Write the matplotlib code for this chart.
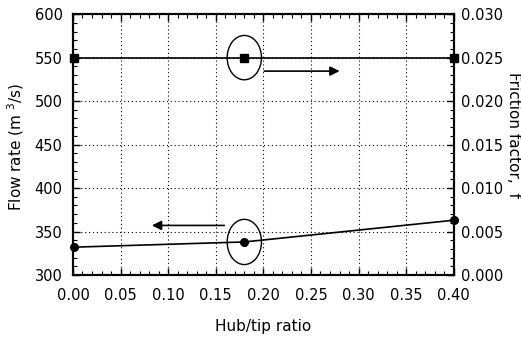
import matplotlib
matplotlib.use("Agg")
import matplotlib.pyplot as plt
from matplotlib.patches import Ellipse
from matplotlib.ticker import MultipleLocator, FormatStrFormatter

plt.rcParams['font.family'] = ['DejaVu Sans']
plt.rcParams['mathtext.fontset'] = 'dejavusans'

hub_tip = [0.001, 0.18, 0.40]
flow_rate = [332, 338, 363]
friction = [0.025, 0.025, 0.025]

fig = plt.figure(figsize=(5.21, 3.37), dpi=100)
ax = fig.add_axes([0.140, 0.184, 0.731, 0.774])
ax2 = ax.twinx()

ax.plot(hub_tip, flow_rate, '-o', color='black', lw=1.2, ms=5.5, clip_on=False, zorder=5)
ax2.plot(hub_tip, friction, '-s', color='black', lw=1.2, ms=5.5, clip_on=False, zorder=5)

ax.set_xlim(0, 0.40)
ax.set_ylim(300, 600)
ax2.set_ylim(0, 0.030)

ax.xaxis.set_major_locator(MultipleLocator(0.05))
ax.xaxis.set_minor_locator(MultipleLocator(0.01))
ax.yaxis.set_major_locator(MultipleLocator(50))
ax.yaxis.set_minor_locator(MultipleLocator(10))
ax2.yaxis.set_major_locator(MultipleLocator(0.005))
ax2.yaxis.set_minor_locator(MultipleLocator(0.001))

ax.xaxis.set_major_formatter(FormatStrFormatter('%.2f'))
ax2.yaxis.set_major_formatter(FormatStrFormatter('%.3f'))

ax.grid(True, which='major', color='black', linestyle=(0, (1, 2.5)), lw=0.8)

for a in (ax, ax2):
    for s in a.spines.values():
        s.set_linewidth(1.5)
ax.tick_params(which='both', direction='in', top=True, labelsize=10.5)
ax.tick_params(axis='x', pad=9.5)
ax.tick_params(axis='y', pad=7.5)
ax.tick_params(which='major', length=5, width=1)
ax.tick_params(which='minor', length=3, width=0.8)
ax2.tick_params(which='both', direction='in', labelsize=10.5, pad=5)
ax2.tick_params(which='major', length=5, width=1)
ax2.tick_params(which='minor', length=3, width=0.8)

ax.set_xlabel('Hub/tip ratio', fontsize=11)
ax.xaxis.set_label_coords(0.5, -0.197)
ax.xaxis.label.set_va('center')
ax.set_ylabel('Flow rate (m $^{3}$/s)', fontsize=11)
ax.yaxis.set_label_coords(-0.150, 0.49)
ax.yaxis.label.set_va('center')
ax2.set_ylabel('Friction factor,  f', fontsize=11, rotation=270)
ax2.yaxis.set_label_coords(1.156, 0.536)
ax2.yaxis.label.set_va('center')
ax2.yaxis.label.set_ha('center')

ax.add_patch(Ellipse((0.18, 550), 0.036, 51, fill=False, color='black', lw=1.0, zorder=6))
ax.add_patch(Ellipse((0.18, 338), 0.036, 52, fill=False, color='black', lw=1.0, zorder=6))

ax.annotate('', xy=(0.283, 534.5), xytext=(0.198, 534.5),
            arrowprops=dict(arrowstyle='-|>', color='black', lw=1.2, mutation_scale=14), zorder=6)
ax.annotate('', xy=(0.080, 357), xytext=(0.162, 357),
            arrowprops=dict(arrowstyle='-|>', color='black', lw=1.2, mutation_scale=14), zorder=6)

fig.savefig('out.png', dpi=100)
